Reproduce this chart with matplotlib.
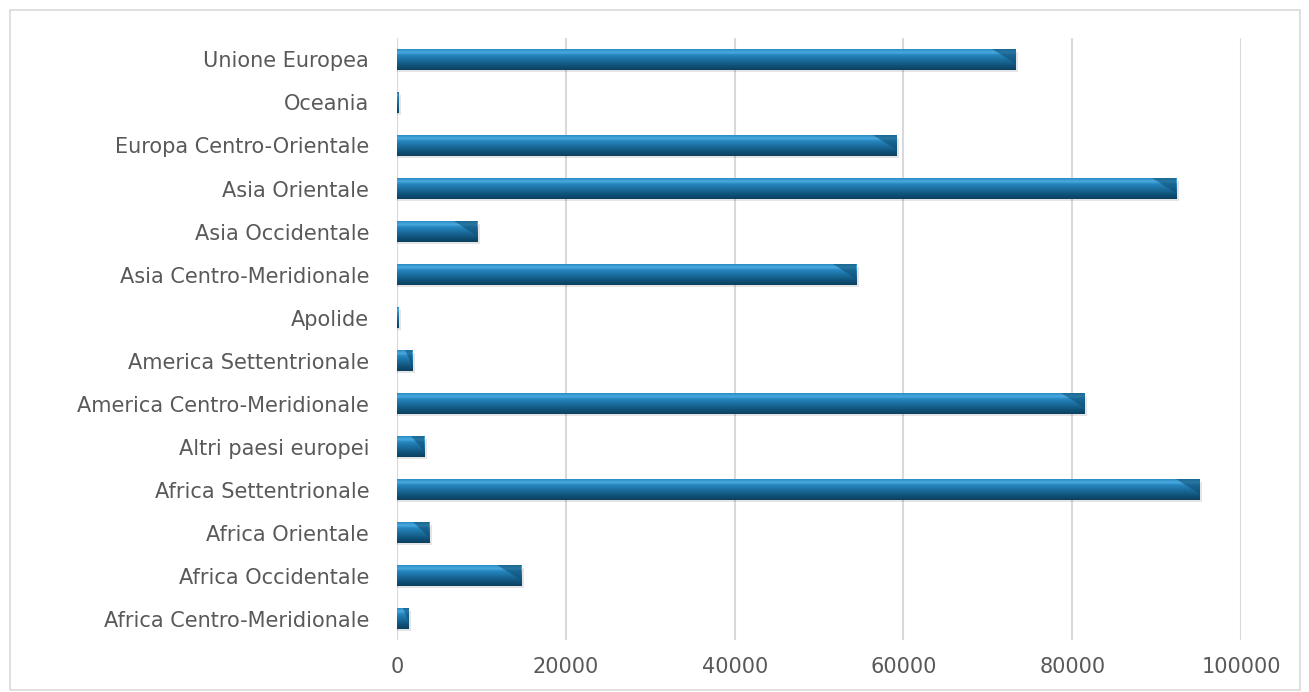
import numpy as np
import matplotlib
matplotlib.use('Agg')
import matplotlib.pyplot as plt
from matplotlib.colors import LinearSegmentedColormap
from matplotlib.patches import Rectangle, Polygon

plt.rcParams['font.family'] = ['DejaVu Sans']

# categorie dal basso verso l'alto
categorie = ['Africa Centro-Meridionale', 'Africa Occidentale', 'Africa Orientale',
             'Africa Settentrionale', 'Altri paesi europei', 'America Centro-Meridionale',
             'America Settentrionale', 'Apolide', 'Asia Centro-Meridionale',
             'Asia Occidentale', 'Asia Orientale', 'Europa Centro-Orientale',
             'Oceania', 'Unione Europea']
valori = [1400, 14700, 3800, 95100, 3200, 81500, 1800, 150, 54400,
          9500, 92300, 59200, 180, 73300]
tick_x = [0, 20000, 40000, 60000, 80000, 100000]

# sfumatura verticale delle barre (dal basso verso l'alto)
cmap = LinearSegmentedColormap.from_list('barra', [
    (0.0, '#0b405e'), (0.2, '#0f5177'), (0.5, '#1b6fa0'),
    (0.72, '#2686bf'), (0.85, '#4aaae0'), (1.0, '#2a8cc3')])
grad = np.linspace(0, 1, 64).reshape(-1, 1)

fig = plt.figure(figsize=(13.09, 6.92), dpi=100)
ax = fig.add_axes([0.3033, 0.0751, 0.6448, 0.8700])

h = 0.47
for i, v in enumerate(valori):
    # ombra
    ax.add_patch(Rectangle((0, i - h / 2 - 0.06), v + 300, h, facecolor='#000000',
                           alpha=0.10, edgecolor='none', zorder=2))
    ax.imshow(grad, cmap=cmap, origin='lower', aspect='auto',
              extent=[0, v, i - h / 2, i + h / 2], zorder=3, interpolation='bilinear')
    # smusso all'estremità destra
    b = min(2800, v * 0.5)
    ax.add_patch(Polygon([(v - b, i + h / 2), (v, i + h / 2), (v, i - h / 2 + 0.12)],
                         closed=True, facecolor='#0e4c70', alpha=0.55,
                         edgecolor='none', zorder=4))

ax.set_xlim(0, 100000)
ax.set_ylim(-0.5, len(categorie) - 0.5)
ax.set_aspect('auto')
ax.set_xticks(tick_x)
ax.set_xticklabels([str(t) for t in tick_x])
ax.set_yticks(range(len(categorie)))
ax.set_yticklabels(categorie)
ax.tick_params(axis='both', length=0, labelsize=15, colors='#595959')
ax.tick_params(axis='y', pad=20)
ax.tick_params(axis='x', pad=12)
ax.grid(axis='x', color='#d9d9d9', linewidth=1.5, zorder=0)
ax.set_axisbelow(True)
for s in ax.spines.values():
    s.set_visible(False)
ax.axvline(0, color='#d9d9d9', linewidth=1.5, zorder=1)

# bordo della figura
fig.patches.append(Rectangle((10 / 1309, 2 / 692), 1290 / 1309, 680 / 692,
                             transform=fig.transFigure, fill=False,
                             edgecolor='#d9d9d9', linewidth=1.2))

fig.savefig('out.png', dpi=100)
